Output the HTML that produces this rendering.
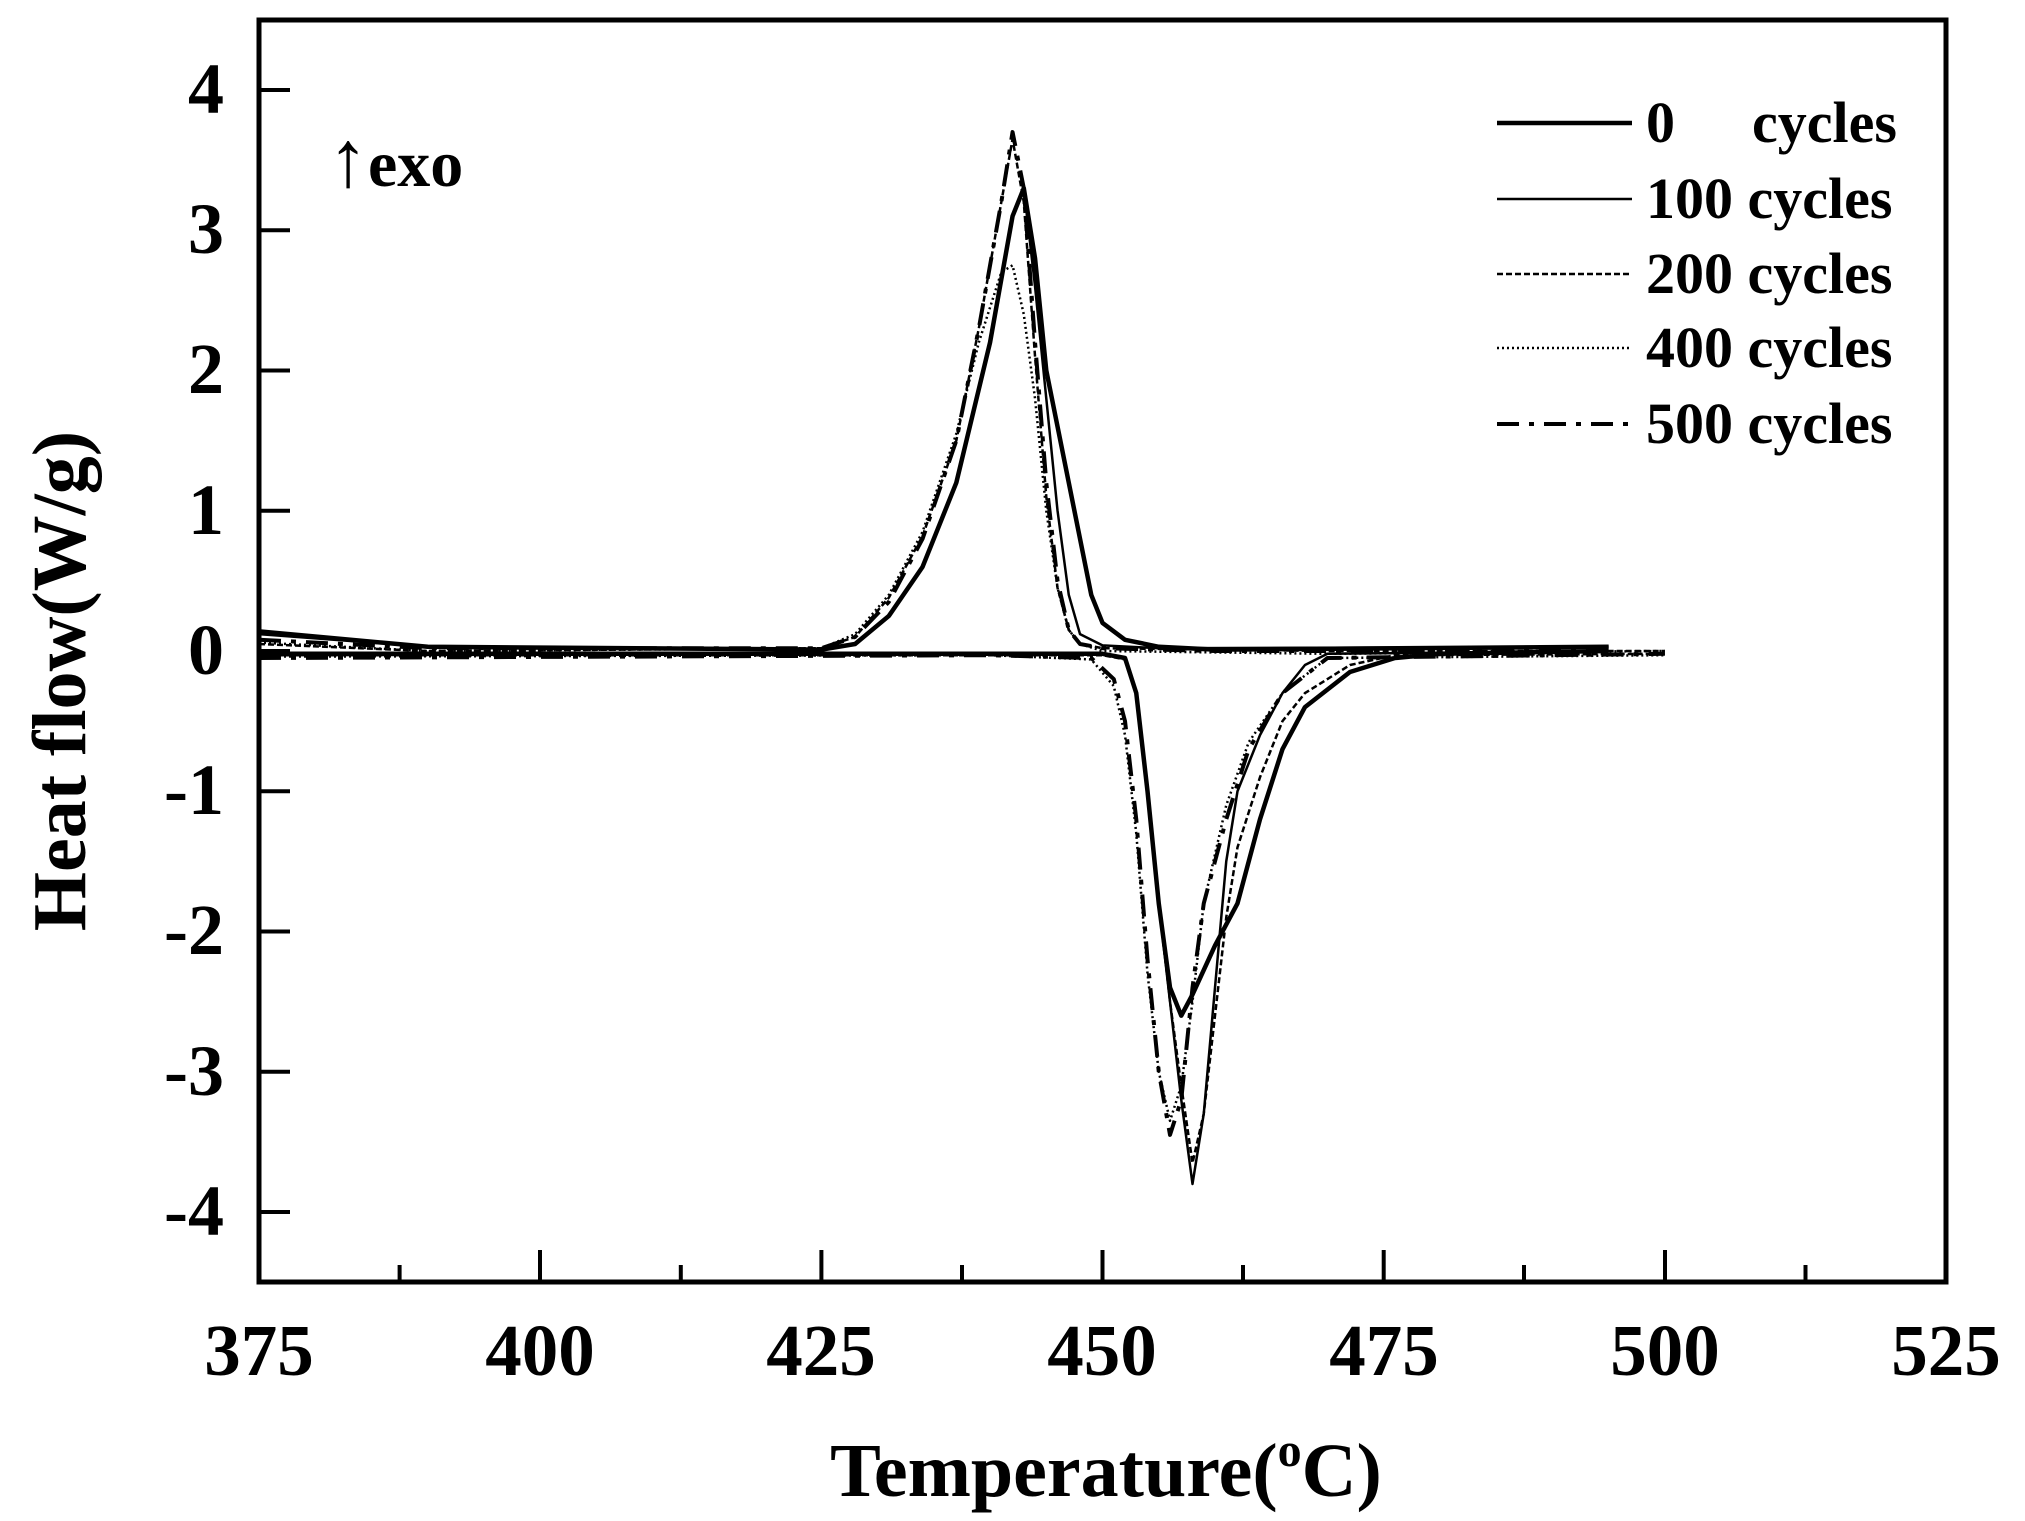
<!DOCTYPE html>
<html><head><meta charset="utf-8"><style>
html,body{margin:0;padding:0;background:#fff;}
svg{display:block;}
text{font-family:"Liberation Serif",serif;font-weight:bold;fill:#000;}
</style></head><body>
<svg width="2025" height="1521" viewBox="0 0 2025 1521" xmlns="http://www.w3.org/2000/svg">
<rect width="2025" height="1521" fill="#fff"/>
<rect x="259" y="20" width="1687" height="1262" fill="none" stroke="#000" stroke-width="5"/>
<g stroke="#000" stroke-width="4">
<line x1="259" y1="1282" x2="259" y2="1250"/>
<line x1="399.6" y1="1282" x2="399.6" y2="1265"/>
<line x1="540" y1="1282" x2="540" y2="1250"/>
<line x1="680.8" y1="1282" x2="680.8" y2="1265"/>
<line x1="821.4" y1="1282" x2="821.4" y2="1250"/>
<line x1="962" y1="1282" x2="962" y2="1265"/>
<line x1="1102.5" y1="1282" x2="1102.5" y2="1250"/>
<line x1="1243" y1="1282" x2="1243" y2="1265"/>
<line x1="1383.7" y1="1282" x2="1383.7" y2="1250"/>
<line x1="1524" y1="1282" x2="1524" y2="1265"/>
<line x1="1665" y1="1282" x2="1665" y2="1250"/>
<line x1="1805.5" y1="1282" x2="1805.5" y2="1265"/>
<line x1="259" y1="90" x2="290" y2="90"/>
<line x1="259" y1="230.25" x2="290" y2="230.25"/>
<line x1="259" y1="370.5" x2="290" y2="370.5"/>
<line x1="259" y1="510.75" x2="290" y2="510.75"/>
<line x1="259" y1="651" x2="290" y2="651"/>
<line x1="259" y1="791.25" x2="290" y2="791.25"/>
<line x1="259" y1="931.5" x2="290" y2="931.5"/>
<line x1="259" y1="1071.75" x2="290" y2="1071.75"/>
<line x1="259" y1="1212" x2="290" y2="1212"/>
</g>
<g font-size="73" text-anchor="middle">
<text x="259" y="1375">375</text>
<text x="540" y="1375">400</text>
<text x="821" y="1375">425</text>
<text x="1102" y="1375">450</text>
<text x="1384" y="1375">475</text>
<text x="1665" y="1375">500</text>
<text x="1946" y="1375">525</text>
</g>
<g font-size="72" text-anchor="end">
<text x="224" y="113">4</text>
<text x="224" y="253">3</text>
<text x="224" y="393">2</text>
<text x="224" y="534">1</text>
<text x="224" y="674">0</text>
<text x="224" y="814">-1</text>
<text x="224" y="954">-2</text>
<text x="224" y="1095">-3</text>
<text x="224" y="1235">-4</text>
</g>
<text x="1106" y="1496" font-size="76" text-anchor="middle">Temperature(<tspan font-size="48" dy="-30">o</tspan><tspan dy="30">C)</tspan></text>
<text transform="translate(85,681) rotate(-90)" font-size="76" text-anchor="middle">Heat flow(W/g)</text>
<text x="328" y="186" font-size="66"><tspan font-weight="normal" font-size="80">↑</tspan>exo</text>
<g stroke="#000" fill="none">
<line x1="1497" y1="123" x2="1632" y2="123" stroke-width="4.5"/>
<line x1="1497" y1="199" x2="1632" y2="199" stroke-width="2.5"/>
<line x1="1497" y1="274" x2="1632" y2="274" stroke-width="2.5" stroke-dasharray="6,3"/>
<line x1="1497" y1="348" x2="1632" y2="348" stroke-width="2.5" stroke-dasharray="2,3"/>
<line x1="1497" y1="424" x2="1632" y2="424" stroke-width="4" stroke-dasharray="22,10,5,10"/>
</g>
<g font-size="58">
<text x="1646" y="142">0</text><text x="1752" y="142">cycles</text>
<text x="1646" y="218">100 cycles</text>
<text x="1646" y="293">200 cycles</text>
<text x="1646" y="367">400 cycles</text>
<text x="1646" y="443">500 cycles</text>
</g>
<g transform="translate(259,651) scale(11.247,-140.25) translate(-375,0)" fill="none" stroke="#000" stroke-linejoin="round">
<polyline vector-effect="non-scaling-stroke" stroke-width="4" stroke-dasharray="22,10,5,10" points="375,0.08 390,0.02 425,0.02 428,0.1 431,0.35 434,0.8 437,1.5 439,2.3 441,3.2 442,3.7 443,3.3 444,2.2 445,1.2 446,0.5 447,0.15 448,0.05 450,0.02 460,0 470,0 480,0 495,0.02"/>
<polyline vector-effect="non-scaling-stroke" stroke-width="2.5" stroke-dasharray="2,3" points="375,0.06 390,0.0 425,0.02 428,0.12 431,0.4 434,0.85 437,1.55 439,2.2 441,2.7 442,2.75 443,2.4 444,1.8 445,1.0 446,0.45 447,0.15 448,0.05 450,0.0 470,-0.02 500,0"/>
<polyline vector-effect="non-scaling-stroke" stroke-width="2.5" stroke-dasharray="6,3" points="375,0.05 390,0.0 425,0.02 428,0.1 431,0.38 434,0.82 437,1.5 439,2.3 441,3.2 442,3.65 443,3.2 444,2.1 445,1.1 446,0.45 447,0.15 448,0.05 450,0.02 470,0 500,0"/>
<polyline vector-effect="non-scaling-stroke" stroke-width="2.5" points="375,0.12 390,0.03 425,0.01 428,0.05 431,0.25 434,0.6 437,1.2 440,2.2 442,3.1 443,3.3 444,2.6 445,1.8 446,1.0 447,0.4 448,0.12 450,0.04 455,0.02 495,0.03"/>
<polyline vector-effect="non-scaling-stroke" stroke-width="4.5" points="375,0.14 390,0.03 425,0.01 428,0.05 431,0.25 434,0.6 437,1.2 440,2.2 442,3.1 443,3.3 444,2.8 445,2.0 447,1.2 449,0.4 450,0.2 452,0.08 455,0.03 460,0.01 495,0.03"/>
<polyline vector-effect="non-scaling-stroke" stroke-width="4" stroke-dasharray="22,10,5,10" points="375,-0.05 440,-0.03 449,-0.05 451,-0.2 452,-0.5 453,-1.2 454,-2.2 455,-3.0 456,-3.45 457,-3.2 458,-2.4 459,-1.8 461,-1.2 463,-0.7 466,-0.3 470,-0.05 500,-0.02"/>
<polyline vector-effect="non-scaling-stroke" stroke-width="2.5" stroke-dasharray="2,3" points="375,-0.04 440,-0.03 449,-0.06 451,-0.25 452,-0.6 453,-1.3 454,-2.3 455,-3.0 456,-3.35 457,-3.1 458,-2.5 459,-1.8 461,-1.1 463,-0.65 466,-0.3 470,-0.05 500,-0.03"/>
<polyline vector-effect="non-scaling-stroke" stroke-width="2.5" stroke-dasharray="6,3" points="375,-0.03 450,-0.03 452,-0.06 453,-0.3 454,-1.0 455,-1.8 456,-2.5 457,-3.1 458,-3.65 459,-3.3 460,-2.6 461,-1.9 462,-1.4 464,-0.9 466,-0.5 468,-0.3 472,-0.1 476,-0.03 500,-0.02"/>
<polyline vector-effect="non-scaling-stroke" stroke-width="2.5" points="375,-0.03 450,-0.02 452,-0.05 453,-0.3 454,-1.0 455,-1.8 456,-2.5 457,-3.2 458,-3.8 459,-3.3 460,-2.4 461,-1.5 462,-1.0 464,-0.6 466,-0.3 468,-0.1 470,-0.02 495,0"/>
<polyline vector-effect="non-scaling-stroke" stroke-width="4.5" points="375,-0.02 450,-0.02 452,-0.05 453,-0.3 454,-1.0 455,-1.8 456,-2.4 457,-2.6 458,-2.45 460,-2.1 462,-1.8 464,-1.2 466,-0.7 468,-0.4 472,-0.15 476,-0.05 480,-0.02 495,0"/>
</g>
</svg>
</body></html>
